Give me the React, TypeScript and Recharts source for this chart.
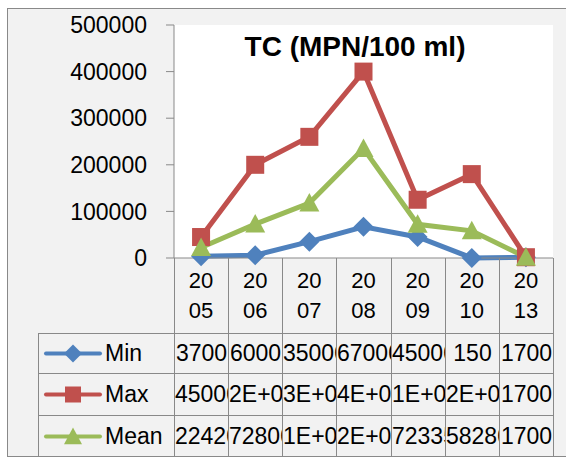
import React from 'react';
import { LineChart, Line, XAxis, YAxis } from 'recharts';

const years = ['2005', '2006', '2007', '2008', '2009', '2010', '2013'];
const minVals = [3700, 6000, 35000, 67000, 45000, 150, 1700];
const maxVals = [45000, 200000, 260000, 400000, 125000, 180000, 1700];
const meanVals = [22420, 72800, 118000, 235000, 72335, 58280, 1700];
const yTicks = [0, 100000, 200000, 300000, 400000, 500000];

const data = years.map((y, i) => ({ year: y, Min: minVals[i], Max: maxVals[i], Mean: meanVals[i] }));

const BLUE = '#4F81BD';
const RED = '#C0504D';
const GREEN = '#9BBB59';
const GRID = '#898989';
const FONT = '"Liberation Sans", Arial, sans-serif';

// plot / table geometry
const PLOT_L = 174;
const PLOT_R = 553;
const PLOT_T = 25;
const PLOT_B = 258;
const TABLE_L = 38;
const ROWS = [333, 373, 415, 457];
const COL_W = (PLOT_R - PLOT_L) / years.length;

const shape = (kind: string, cx: number, cy: number, s: number, color: string, key?: string) => {
  if (kind === 'diamond') {
    return <path key={key} d={`M${cx},${cy - s}L${cx + s},${cy}L${cx},${cy + s}L${cx - s},${cy}Z`} fill={color} />;
  }
  if (kind === 'square') {
    return <rect key={key} x={cx - s} y={cy - s} width={s * 2} height={s * 2} fill={color} />;
  }
  return <path key={key} d={`M${cx},${cy - s}L${cx + s},${cy + s * 0.85}L${cx - s},${cy + s * 0.85}Z`} fill={color} />;
};

const makeDot = (kind: string, color: string, s: number) => (props: any) =>
  shape(kind, props.cx, props.cy, s, color, `${kind}-${props.index}`);

// Excel-style general format: wide numbers go to scientific
const fmt = (v: number) =>
  v >= 100000 ? v.toExponential(0).toUpperCase().replace(/E\+(\d)$/, 'E+0$1') : String(v);

const YearTick = (props: any) => {
  const { x, y, payload } = props;
  const s = String(payload.value);
  return (
    <text x={x} y={y} textAnchor="middle" fill="#000" fontSize={22} fontFamily={FONT}>
      <tspan x={x} dy={30}>{s.slice(0, 2)}</tspan>
      <tspan x={x} dy={30}>{s.slice(2)}</tspan>
    </text>
  );
};

const series = [
  { name: 'Min', vals: minVals, color: BLUE, kind: 'diamond' },
  { name: 'Max', vals: maxVals, color: RED, kind: 'square' },
  { name: 'Mean', vals: meanVals, color: GREEN, kind: 'triangle' },
];

const hLine = (x: number, y: number, w: number) => (
  <div key={`h${x}-${y}`} style={{ position: 'absolute', left: x, top: y, width: w, height: 1, background: GRID }} />
);
const vLine = (x: number, y: number, h: number) => (
  <div key={`v${x}-${y}`} style={{ position: 'absolute', left: x, top: y, width: 1, height: h, background: GRID }} />
);

export default function App() {
  return (
    <div style={{ position: 'absolute', left: 0, top: 0, width: 566, height: 457, overflow: 'hidden', background: '#fff', fontFamily: FONT }}>
      <div style={{ position: 'absolute', left: 7, top: 8, width: 580, height: 447, border: `1px solid ${GRID}`, background: '#f2f2f2' }} />
      <div style={{ position: 'absolute', left: PLOT_L, top: PLOT_T, width: PLOT_R - PLOT_L, height: PLOT_B - PLOT_T, background: '#fff' }} />

      <div style={{ position: 'absolute', left: 0, top: 0 }}>
        <LineChart width={566} height={457} data={data} margin={{ top: PLOT_T, right: 566 - PLOT_R, bottom: 457 - ROWS[0], left: 0 }}>
          <XAxis
            dataKey="year"
            height={ROWS[0] - PLOT_B}
            padding={{ left: COL_W / 2, right: COL_W / 2 }}
            tickLine={false}
            tickSize={0}
            tickMargin={0}
            axisLine={{ stroke: GRID, strokeWidth: 1 }}
            tick={<YearTick />}
            interval={0}
          />
          <YAxis
            width={PLOT_L}
            domain={[0, 500000]}
            ticks={yTicks}
            interval={0}
            tickSize={8}
            tickMargin={19}
            axisLine={{ stroke: GRID }}
            tickLine={{ stroke: GRID }}
            tick={{ fill: '#000', fontSize: 23, fontFamily: FONT }}
          />
          {series.map((s) => (
            <Line
              key={s.name}
              type="linear"
              dataKey={s.name}
              stroke={s.color}
              strokeWidth={5}
              dot={makeDot(s.kind, s.color, s.kind === 'square' ? 9 : 10)}
              activeDot={false}
              isAnimationActive={false}
            />
          ))}
        </LineChart>
      </div>

      <div style={{ position: 'absolute', left: 355, top: 47, transform: 'translate(-50%, -50%)', fontSize: 28, fontWeight: 'bold', whiteSpace: 'nowrap', color: '#000' }}>
        TC (MPN/100 ml)
      </div>

      {/* data table */}
      {years.map((_, i) => vLine(Math.round(PLOT_L + i * COL_W), PLOT_B, 457 - PLOT_B))}
      {vLine(PLOT_R, PLOT_B, 457 - PLOT_B)}
      {vLine(TABLE_L, ROWS[0], 457 - ROWS[0])}
      {ROWS.slice(0, 3).map((y) => hLine(TABLE_L, y, PLOT_R - TABLE_L + 1))}

      {series.map((s, r) => {
        const top = ROWS[r] + 1;
        const h = ROWS[r + 1] - ROWS[r] - 1;
        return (
          <React.Fragment key={s.name}>
            <svg style={{ position: 'absolute', left: TABLE_L + 1, top }} width={64} height={h}>
              <line x1={7} x2={61} y1={h / 2} y2={h / 2} stroke={s.color} strokeWidth={4} strokeLinecap="round" />
              {shape(s.kind, 34, h / 2, s.kind === 'square' ? 8 : 9, s.color)}
            </svg>
            <div style={{ position: 'absolute', left: 105, top, height: h, lineHeight: `${h}px`, fontSize: 23, color: '#000' }}>{s.name}</div>
            {s.vals.map((v, i) => (
              <div
                key={i}
                style={{
                  position: 'absolute',
                  left: Math.round(PLOT_L + i * COL_W) + 1,
                  top,
                  width: Math.round(PLOT_L + (i + 1) * COL_W) - Math.round(PLOT_L + i * COL_W) - 1,
                  height: h,
                  lineHeight: `${h}px`,
                  fontSize: 23,
                  textAlign: 'center',
                  whiteSpace: 'nowrap',
                  overflow: 'hidden',
                  color: '#000',
                }}
              >
                {fmt(v)}
              </div>
            ))}
          </React.Fragment>
        );
      })}
    </div>
  );
}
